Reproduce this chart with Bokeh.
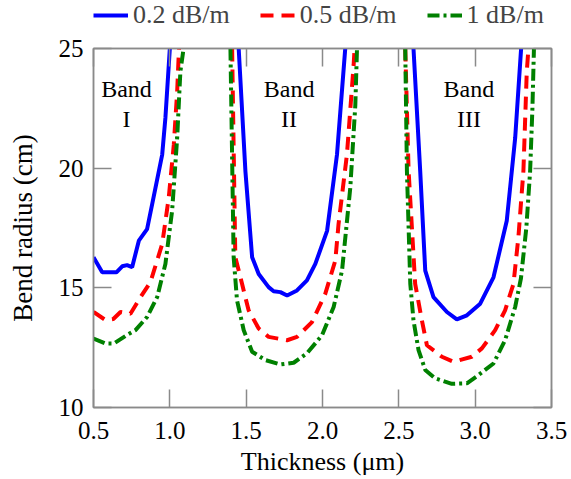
import numpy as np
from bokeh.plotting import figure
from bokeh.layouts import column
from bokeh.models import (LinearAxis, Legend, LegendItem, FixedTicker, Range1d,
                          NumeralTickFormatter)
from bokeh.core.properties import value
from bokeh.embed import file_html
from bokeh.resources import INLINE

series_names = ["0.2 dB/m", "0.5 dB/m", "1 dB/m"]
series_colors = ["#0000FF", "#FF0000", "#008000"]

# ---- 0.2 dB/m (blue) ----
blue_b1_x = [0.50, 0.557, 0.65, 0.688, 0.72, 0.753, 0.797, 0.851, 0.884, 0.95, 0.971, 1.00]
blue_b1_y = [16.28, 15.65, 15.65, 15.90, 15.95, 15.86, 16.97, 17.45, 18.49, 20.57, 22.10, 25.0]
blue_b2_x = [1.451, 1.495, 1.539, 1.582, 1.647, 1.680, 1.724, 1.768, 1.833, 1.898, 1.953, 2.030, 2.095, 2.149]
blue_b2_y = [25.0, 19.88, 16.28, 15.58, 15.03, 14.86, 14.82, 14.68, 14.89, 15.31, 16.00, 17.38, 20.57, 25.0]
blue_b3_x = [2.596, 2.640, 2.673, 2.727, 2.815, 2.880, 2.946, 3.033, 3.120, 3.207, 3.262, 3.301]
blue_b3_y = [25.0, 19.88, 15.72, 14.61, 13.99, 13.68, 13.85, 14.34, 15.44, 17.80, 21.26, 25.0]

# ---- 0.5 dB/m (red) ----
red_b1_x = [0.50, 0.579, 0.630, 0.677, 0.742, 0.808, 0.873, 0.950, 0.993, 1.026, 1.048, 1.060]
red_b1_y = [13.99, 13.65, 13.70, 13.99, 13.92, 14.61, 15.24, 16.83, 18.77, 20.98, 23.20, 25.0]
red_b2_x = [1.408, 1.429, 1.473, 1.516, 1.582, 1.647, 1.768, 1.833, 1.931, 2.018, 2.084, 2.105, 2.160, 2.204, 2.210]
red_b2_y = [25.0, 16.28, 15.17, 14.06, 13.30, 12.95, 12.81, 12.95, 13.57, 14.75, 16.14, 17.66, 20.57, 24.31, 25.0]
red_b3_x = [2.542, 2.564, 2.607, 2.651, 2.684, 2.782, 2.858, 2.978, 3.044, 3.131, 3.196, 3.251, 3.283, 3.316, 3.338, 3.349]
red_b3_y = [25.0, 19.88, 15.17, 13.64, 12.60, 12.12, 11.91, 12.12, 12.47, 13.23, 14.06, 15.17, 17.10, 19.88, 24.03, 25.0]

# ---- 1 dB/m (green) ----
green_b1_x = [0.50, 0.579, 0.633, 0.72, 0.775, 0.851, 0.917, 0.971, 1.015, 1.048, 1.069, 1.090]
green_b1_y = [12.88, 12.67, 12.67, 13.03, 13.23, 13.78, 14.61, 16.00, 18.22, 21.26, 24.03, 25.0]
green_b2_x = [1.397, 1.418, 1.440, 1.484, 1.539, 1.626, 1.724, 1.811, 1.898, 1.997, 2.073, 2.128, 2.182, 2.215, 2.226]
green_b2_y = [25.0, 16.28, 14.48, 13.23, 12.33, 11.98, 11.80, 11.87, 12.26, 13.02, 14.20, 15.72, 19.18, 22.64, 25.0]
green_b3_x = [2.542, 2.553, 2.575, 2.596, 2.629, 2.673, 2.738, 2.847, 2.946, 3.022, 3.120, 3.196, 3.262, 3.300, 3.335, 3.360, 3.375, 3.385]
green_b3_y = [25.0, 19.88, 15.17, 13.64, 12.40, 11.57, 11.22, 10.99, 11.01, 11.36, 11.84, 12.81, 14.20, 15.40, 17.50, 19.88, 22.50, 25.0]

band_label_x = [0.716, 1.781, 2.959]
band_numerals = ["I", "II", "III"]
band_word = ["Band", "Band", "Band"]
band_word_y = [23.3, 23.3, 23.3]
band_numeral_y = [22.05, 22.05, 22.05]

x_ticks = [0.5, 1.0, 1.5, 2.0, 2.5, 3.0, 3.5]
y_ticks = [10, 15, 20, 25]


def join(*parts):
    out = []
    for i, part in enumerate(parts):
        if i:
            out.append(np.nan)
        out.extend(part)
    return np.array(out, dtype=float)


series_x = [join(blue_b1_x, blue_b2_x, blue_b3_x),
            join(red_b1_x, red_b2_x, red_b3_x),
            join(green_b1_x, green_b2_x, green_b3_x)]
series_y = [join(blue_b1_y, blue_b2_y, blue_b3_y),
            join(red_b1_y, red_b2_y, red_b3_y),
            join(green_b1_y, green_b2_y, green_b3_y)]
series_dash = ["solid", "13 8", "12 4 3 4"]

FONT = "Liberation Serif"
GREY = "#8a8a8a"
W = 568

# ---------------- legend strip (own small figure, nothing drawn in it) ----------------
lf = figure(width=W, height=30, output_backend="svg", toolbar_location=None,
            x_range=Range1d(0, 1), y_range=Range1d(0, 1),
            x_axis_location=None, y_axis_location=None, min_border=0)
lf.outline_line_color = None
lf.grid.visible = False
legend_renderers = []
for c, d in zip(series_colors, series_dash):
    legend_renderers.append(lf.line(x=np.array([np.nan]), y=np.array([np.nan]),
                                    line_color=c, line_width=4, line_dash=d))
legend = Legend(items=[LegendItem(label=n, renderers=[r]) for n, r in zip(series_names, legend_renderers)],
                orientation="horizontal", location=(0, 0),
                background_fill_alpha=0, border_line_color=None, padding=0, margin=0,
                spacing=30, glyph_width=35, glyph_height=20, label_standoff=5,
                label_text_font=FONT, label_text_font_size="26px", label_height=20)
lf.add_layout(legend)

# ---------------- main plot ----------------
p = figure(width=W, height=448, output_backend="svg", toolbar_location=None,
           x_range=Range1d(0.5, 3.5), y_range=Range1d(10, 25),
           min_border_left=93, min_border_right=17, min_border_top=18, min_border_bottom=69)
p.grid.visible = False
p.outline_line_color = GREY
p.outline_line_width = 1.5
p.background_fill_color = "white"
p.border_fill_color = "white"

for xs, ys, c, d in zip(series_x, series_y, series_colors, series_dash):
    p.line(xs, ys, line_color=c, line_width=4, line_dash=d)

p.text(x=band_label_x, y=band_word_y, text=band_word, text_font=value(FONT),
       text_font_size="24px", text_align="center", text_baseline="middle", text_color="black")
p.text(x=band_label_x, y=band_numeral_y, text=band_numerals, text_font=value(FONT),
       text_font_size="24px", text_align="center", text_baseline="middle", text_color="black")


def style_axis(ax, labels=True):
    ax.axis_line_color = GREY
    ax.axis_line_width = 1.5
    ax.major_tick_line_color = GREY
    ax.major_tick_line_width = 1.5
    ax.major_tick_in = 18
    ax.major_tick_out = 0
    ax.minor_tick_line_color = None
    if labels:
        ax.major_label_text_font = FONT
        ax.major_label_text_font_size = "25px"
        ax.major_label_text_color = "black"
        ax.axis_label_text_font = FONT
        ax.axis_label_text_font_style = "normal"
        ax.axis_label_text_color = "black"
    else:
        ax.major_label_text_font_size = "0px"
        ax.major_label_standoff = 0


p.xaxis.ticker = FixedTicker(ticks=x_ticks)
p.xaxis.formatter = NumeralTickFormatter(format="0.0")
p.yaxis.ticker = FixedTicker(ticks=y_ticks)
style_axis(p.xaxis[0])
style_axis(p.yaxis[0])
p.xaxis.axis_label = "Thickness (μm)"
p.xaxis.axis_label_text_font_size = "26px"
p.xaxis.major_label_standoff = 14
p.xaxis.axis_label_standoff = 5
p.yaxis.axis_label = "Bend radius (cm)"
p.yaxis.axis_label_text_font_size = "27px"
p.yaxis.major_label_standoff = 10
p.yaxis.axis_label_standoff = 18

top_ax = LinearAxis(ticker=FixedTicker(ticks=x_ticks))
style_axis(top_ax, labels=False)
p.add_layout(top_ax, "above")
right_ax = LinearAxis(ticker=FixedTicker(ticks=y_ticks))
style_axis(right_ax, labels=False)
p.add_layout(right_ax, "right")

layout = column(lf, p, spacing=0)
open("out.html", "w").write(file_html(layout, INLINE))
